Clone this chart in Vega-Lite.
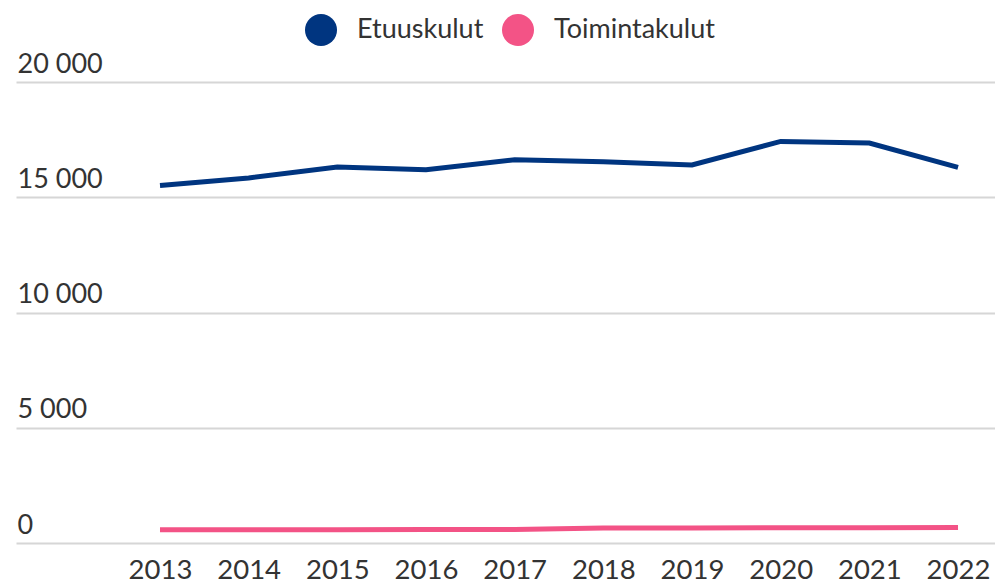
{
  "$schema": "https://vega.github.io/schema/vega-lite/v6.json",
  "autosize": {"type": "none"},
  "width": 979,
  "height": 461,
  "padding": {"left": 16, "top": 82, "right": 0, "bottom": 42},
  "background": "white",
  "config": {
    "font": "Lato",
    "view": {"stroke": null}
  },
  "data": {
    "values": [
      {"vuosi": 2013, "sarja": "Etuuskulut", "arvo": 15514},
      {"vuosi": 2014, "sarja": "Etuuskulut", "arvo": 15835},
      {"vuosi": 2015, "sarja": "Etuuskulut", "arvo": 16312},
      {"vuosi": 2016, "sarja": "Etuuskulut", "arvo": 16195},
      {"vuosi": 2017, "sarja": "Etuuskulut", "arvo": 16629},
      {"vuosi": 2018, "sarja": "Etuuskulut", "arvo": 16542},
      {"vuosi": 2019, "sarja": "Etuuskulut", "arvo": 16399},
      {"vuosi": 2020, "sarja": "Etuuskulut", "arvo": 17423},
      {"vuosi": 2021, "sarja": "Etuuskulut", "arvo": 17354},
      {"vuosi": 2022, "sarja": "Etuuskulut", "arvo": 16295},
      {"vuosi": 2013, "sarja": "Toimintakulut", "arvo": 575},
      {"vuosi": 2014, "sarja": "Toimintakulut", "arvo": 578},
      {"vuosi": 2015, "sarja": "Toimintakulut", "arvo": 580},
      {"vuosi": 2016, "sarja": "Toimintakulut", "arvo": 582},
      {"vuosi": 2017, "sarja": "Toimintakulut", "arvo": 585},
      {"vuosi": 2018, "sarja": "Toimintakulut", "arvo": 650},
      {"vuosi": 2019, "sarja": "Toimintakulut", "arvo": 655},
      {"vuosi": 2020, "sarja": "Toimintakulut", "arvo": 660},
      {"vuosi": 2021, "sarja": "Toimintakulut", "arvo": 665},
      {"vuosi": 2022, "sarja": "Toimintakulut", "arvo": 675}
    ]
  },
  "mark": {"type": "line", "strokeWidth": 5, "strokeCap": "butt", "strokeJoin": "miter"},
  "encoding": {
    "x": {
      "field": "vuosi",
      "type": "quantitative",
      "scale": {"domain": [2011.376, 2022.417], "nice": false, "zero": false},
      "axis": {
        "title": null,
        "values": [2013, 2014, 2015, 2016, 2017, 2018, 2019, 2020, 2021, 2022],
        "format": "d",
        "grid": false,
        "domain": false,
        "ticks": false,
        "labelFontSize": 27.5,
        "labelColor": "#333333",
        "labelPadding": 13,
        "labelFlush": false
      }
    },
    "y": {
      "field": "arvo",
      "type": "quantitative",
      "scale": {"domain": [0, 20000], "nice": false},
      "axis": {
        "title": null,
        "values": [0, 5000, 10000, 15000, 20000],
        "labelExpr": "replace(format(datum.value, ','), ',', ' ')",
        "domain": false,
        "ticks": false,
        "grid": true,
        "gridColor": "#d6d6d6",
        "gridWidth": 2,
        "labelAlign": "left",
        "labelBaseline": "bottom",
        "labelPadding": -1,
        "labelOffset": -4,
        "labelFontSize": 27,
        "labelColor": "#333333"
      }
    },
    "color": {
      "field": "sarja",
      "type": "nominal",
      "scale": {"domain": ["Etuuskulut", "Toimintakulut"], "range": ["#003580", "#f35386"]},
      "legend": {
        "title": null,
        "orient": "none",
        "direction": "horizontal",
        "legendX": 289,
        "legendY": -68,
        "symbolType": "circle",
        "symbolSize": 1024,
        "symbolStrokeWidth": 0,
        "symbolOpacity": 1,
        "labelFontSize": 27,
        "labelLimit": 400,
        "labelColor": "#333333",
        "labelOffset": 20,
        "columnPadding": 18,
        "encode": {
          "symbols": {
            "update": {
              "fill": {"scale": "color", "field": "value"},
              "fillOpacity": {"value": 1},
              "strokeWidth": {"value": 0}
            }
          }
        }
      }
    }
  }
}
